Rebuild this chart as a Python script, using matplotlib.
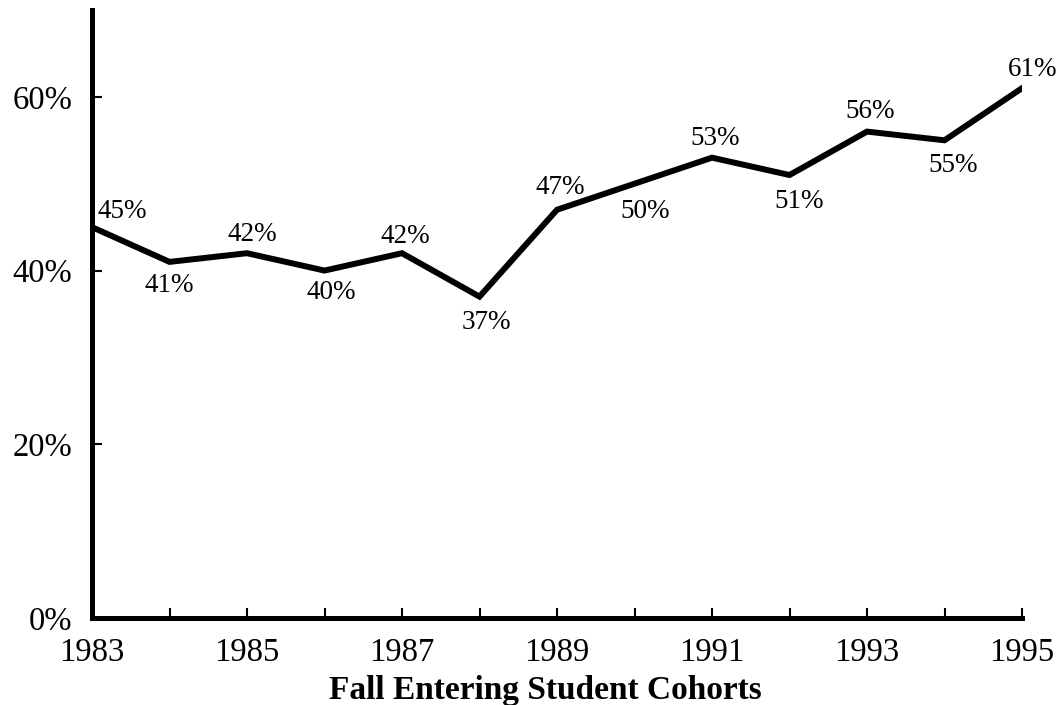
import matplotlib.pyplot as plt

plt.rcParams['font.family'] = ['Liberation Serif', 'DejaVu Serif']

# Данные: доля по когортам осеннего набора
years = [1983, 1984, 1985, 1986, 1987, 1988, 1989, 1990, 1991, 1992, 1993, 1994, 1995]
rates = [45, 41, 42, 40, 42, 37, 47, 50, 53, 51, 56, 55, 61]
year_ticks = [1983, 1985, 1987, 1989, 1991, 1993, 1995]
pct_ticks = [0, 20, 40, 60]

# смещения подписей (в пикселях: вправо, вверх)
label_offsets = [(30, 16), (0, -24), (5, 19), (7, -22), (3, 17), (7, -26), (3, 22),
                 (11, -28), (3, 19), (10, -26), (3, 20), (9, -25), (11, 19)]

fig = plt.figure(figsize=(10.62, 7.05), dpi=100)
ax = fig.add_axes([92 / 1062, 1 - 618 / 705, (1022 - 92) / 1062, (618 - 10) / 705])

ax.plot(years, rates, color='black', linewidth=4.3, solid_joinstyle='miter')

for x, y, (dx, dy) in zip(years, rates, label_offsets):
    ax.annotate(f'{y}%', (x, y), xytext=(dx * 0.72, dy * 0.72), textcoords='offset points',
                ha='center', va='center', fontsize=19.5)

ax.set_xlim(1983, 1995)
ax.set_ylim(0, 70)
ax.set_xticks(years)
ax.set_xticklabels([str(y) if y in year_ticks else '' for y in years])
ax.set_yticks(pct_ticks)
ax.set_yticklabels([f'{p}%' for p in pct_ticks])

for side in ['top', 'right']:
    ax.spines[side].set_visible(False)
for side in ['left', 'bottom']:
    ax.spines[side].set_linewidth(3.6)
    ax.spines[side].set_capstyle('projecting')

ax.tick_params(axis='both', direction='in', length=7, width=1.5, labelsize=23.5)
ax.tick_params(axis='y', pad=14)
ax.tick_params(axis='x', pad=14)

ax.set_xlabel('Fall Entering Student Cohorts', fontsize=24, fontweight='bold')
ax.xaxis.set_label_coords(0.487, -0.094)

fig.savefig('out.png', dpi=100)
